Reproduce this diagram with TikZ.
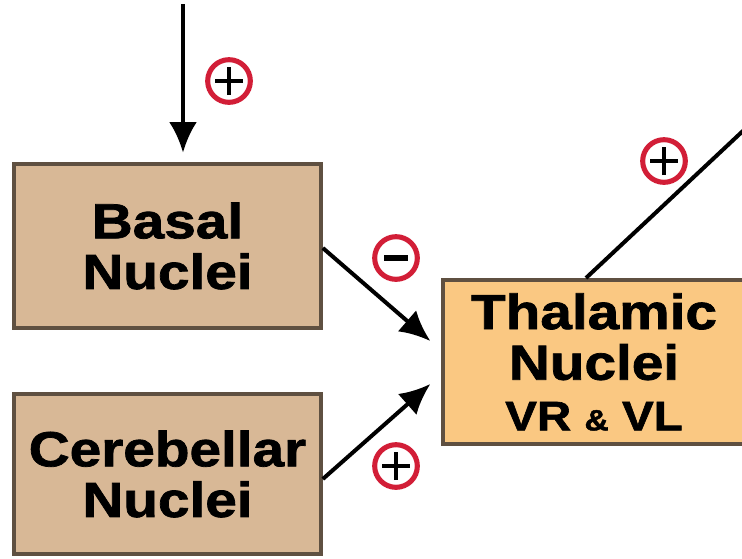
\documentclass[tikz,border=0pt]{standalone}
\usepackage{fontspec}
\setmainfont{Liberation Sans}[FakeStretch=1.15,BoldFeatures={FakeBold=1.5}]
\usetikzlibrary{arrows.meta}
\definecolor{tanfill}{RGB}{216,184,150}
\definecolor{orangefill}{RGB}{250,200,130}
\definecolor{boxline}{RGB}{95,80,65}
\definecolor{signred}{RGB}{210,30,55}
\tikzset{
  nucleus/.style={draw=boxline, line width=3pt, fill=tanfill, align=center, inner sep=0pt,
    minimum width=230pt, minimum height=123pt, font=\fontsize{37}{38}\selectfont\bfseries},
  pathway/.style={line width=3pt, -{Latex[length=23pt,width=21pt]}},
  signcircle/.style={circle, draw=signred, line width=3.8pt, fill=white, minimum size=32pt, inner sep=0pt},
  plussign/.style={signcircle, path picture={
    \draw[black, line width=3.5pt] ([xshift=-10.5pt]path picture bounding box.center) -- ([xshift=10.5pt]path picture bounding box.center)
      ([yshift=-10.5pt]path picture bounding box.center) -- ([yshift=10.5pt]path picture bounding box.center);}},
  minussign/.style={signcircle, path picture={
    \draw[black, line width=4.5pt] ([xshift=-9pt]path picture bounding box.center) -- ([xshift=9pt]path picture bounding box.center);}}
}
\begin{document}
\begin{tikzpicture}[x=0.75pt,y=-0.75pt]
\useasboundingbox[fill=white] (0,0) rectangle (742,558);
\node[nucleus] (basal) at (167.5,246) {Basal\\Nuclei};
\node[nucleus, minimum height=120pt] (cerebellar) at (167.5,474) {Cerebellar\\Nuclei};
\node[nucleus, fill=orangefill, minimum width=226pt] (thalamic) at (594,362)
  {Thalamic\\Nuclei\\{\fontsize{31}{38}\selectfont VR {\fontsize{22}{38}\selectfont\&} VL}};
\coordinate (input) at (183,4);
\coordinate (cortex) at (745,129);
\draw[pathway, shorten >=7pt] (input) -- (input |- basal.north);
\draw[pathway] ([shift={(0,2)}]basal.east) -- ([shift={(-11,-21)}]thalamic.west);
\draw[pathway] ([shift={(0,5)}]cerebellar.east) -- ([shift={(-11,22)}]thalamic.west);
\draw[line width=3pt] ([shift={(-8,0)}]thalamic.north) -- (cortex);
\node[plussign] (inputsign) at (229,81) {};
\node[minussign] (basalsign) at (396,258) {};
\node[plussign] (cerebellarsign) at (396,466) {};
\node[plussign] (cortexsign) at (664,161) {};
\end{tikzpicture}
\end{document}
